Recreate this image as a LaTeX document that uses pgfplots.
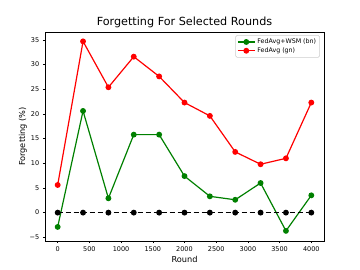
\documentclass[border=0pt]{standalone}
\usepackage{pgfplots}
\pgfplotsset{compat=1.18}
\usepackage{fontspec}
\setmainfont{DejaVu Sans}
\definecolor{mgreen}{RGB}{0,128,0}
\definecolor{mred}{RGB}{255,0,0}
\begin{document}
\begin{tikzpicture}
\begin{axis}[
  at={(0pt,0pt)}, anchor=south west,
  scale only axis, width=279pt, height=209pt,
  xmin=-200, xmax=4200, ymin=-5.75, ymax=36.6,
  xtick={0,500,1000,1500,2000,2500,3000,3500,4000},
  ytick={-5,0,5,10,15,20,25,30,35},
  yticklabels={−5,0,5,10,15,20,25,30,35},
  /pgf/number format/assume math mode=true,
  /pgf/number format/1000 sep={},
  tick align=outside, tick pos=left,
  major tick length=2.2pt,
  tick style={black, line width=0.5pt},
  axis line style={line width=0.5pt},
  ticklabel style={font=\fontsize{6.5}{7}\selectfont},
  xlabel={Round}, ylabel={Forgetting (\%)},
  label style={font=\fontsize{8.2}{9}\selectfont},
  xlabel style={yshift=2pt},
  ylabel style={yshift=-4pt},
  title={Forgetting For Selected Rounds},
  title style={font=\fontsize{11.2}{12}\selectfont, yshift=-5.5pt},
  legend style={at={(0.985,0.985)}, anchor=north east, font=\fontsize{6.3}{7}\selectfont,
    draw=black!20, rounded corners=1.5pt, inner sep=1.5pt, row sep=-1.5pt},
  legend cell align=left,
  every axis plot/.append style={line width=1.2pt},
]
\addplot[color=mgreen, mark=*, mark size=2.3pt] coordinates {
(0,-2.9) (400,20.6) (800,2.9) (1200,15.8) (1600,15.8) (2000,7.4) (2400,3.3) (2800,2.6) (3200,6.0) (3600,-3.7) (4000,3.5)};
\addlegendentry{FedAvg+WSM (bn)}
\addplot[color=mred, mark=*, mark size=2.3pt] coordinates {
(0,5.6) (400,34.7) (800,25.4) (1200,31.6) (1600,27.6) (2000,22.3) (2400,19.6) (2800,12.3) (3200,9.8) (3600,11.0) (4000,22.3)};
\addlegendentry{FedAvg (gn)}
\addplot[color=black, dash pattern=on 5.5pt off 2.5pt, mark=*, mark size=2.3pt, mark options={solid}, forget plot] coordinates {
(0,0) (400,0) (800,0) (1200,0) (1600,0) (2000,0) (2400,0) (2800,0) (3200,0) (3600,0) (4000,0)};
\end{axis}
\path[use as bounding box] (-45pt,-29pt) rectangle (315pt,241pt);
\end{tikzpicture}
\end{document}
